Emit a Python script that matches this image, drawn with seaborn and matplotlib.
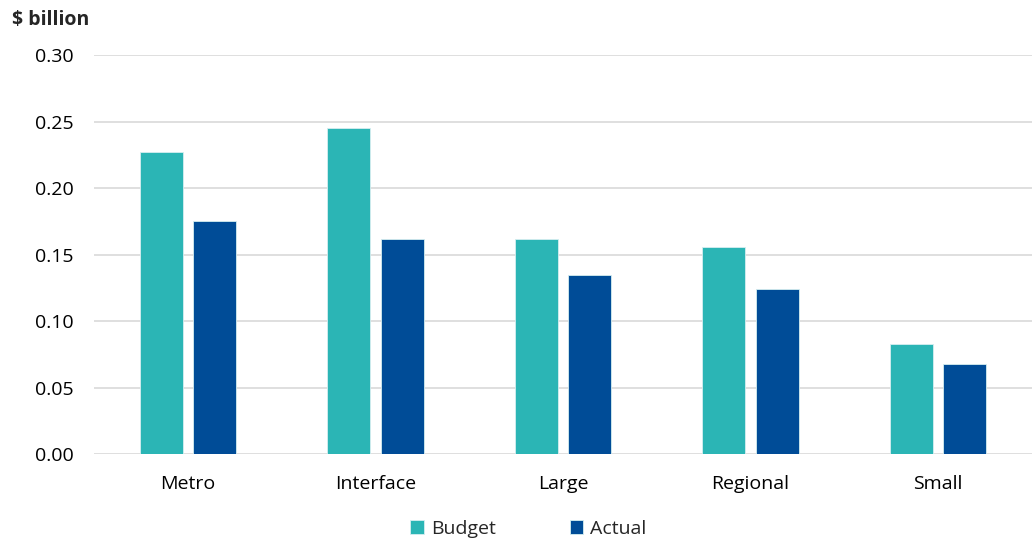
import matplotlib
matplotlib.use("Agg")
import matplotlib.pyplot as plt
import seaborn as sns
import pandas as pd

categories = ["Metro", "Interface", "Large", "Regional", "Small"]
budget = [0.227, 0.245, 0.162, 0.156, 0.083]
actual = [0.175, 0.162, 0.135, 0.124, 0.068]
series_names = ["Budget", "Actual"]
y_ticks = [0.00, 0.05, 0.10, 0.15, 0.20, 0.25, 0.30]

df = pd.DataFrame({
    "category": categories * 2,
    "series": [series_names[0]] * len(categories) + [series_names[1]] * len(categories),
    "value": budget + actual,
})

sns.set_theme(style="white")
plt.rcParams["font.family"] = ["Open Sans", "DejaVu Sans"]

fig = plt.figure(figsize=(10.34, 5.4), dpi=100)
ax = fig.add_axes([0.091, 0.159, 0.907, 0.739])

palette = {"Budget": "#2BB5B5", "Actual": "#004C97"}
sns.barplot(data=df, x="category", y="value", hue="series", order=categories,
            hue_order=series_names, palette=palette, width=0.57, gap=0.2,
            saturation=1, ax=ax, legend=True, edgecolor="#D6EEF0", linewidth=0.6)

ax.set_ylim(0, 0.30)
ax.set_yticks(y_ticks)
ax.set_yticklabels([f"{t:.2f}" for t in y_ticks])
ax.set_xlim(-0.5, len(categories) - 0.5)
ax.set_xlabel("")
ax.set_ylabel("")
ax.yaxis.grid(True, color="#D9D9D9", linewidth=1.2)
ax.set_axisbelow(True)
for s in ax.spines.values():
    s.set_visible(False)
ax.tick_params(axis="both", length=0, labelsize=14, colors="#000000")
ax.tick_params(axis="y", pad=15)
ax.tick_params(axis="x", pad=15)

fig.text(0.012, 0.963, "$ billion", fontsize=14, fontweight="bold", ha="left", va="center")

leg = ax.legend(loc="upper center", bbox_to_anchor=(0.463, -0.12), ncol=2, frameon=False,
                fontsize=14, handlelength=0.7, handleheight=0.7, handletextpad=0.35,
                columnspacing=3.8)

fig.savefig("out.png", dpi=100)
